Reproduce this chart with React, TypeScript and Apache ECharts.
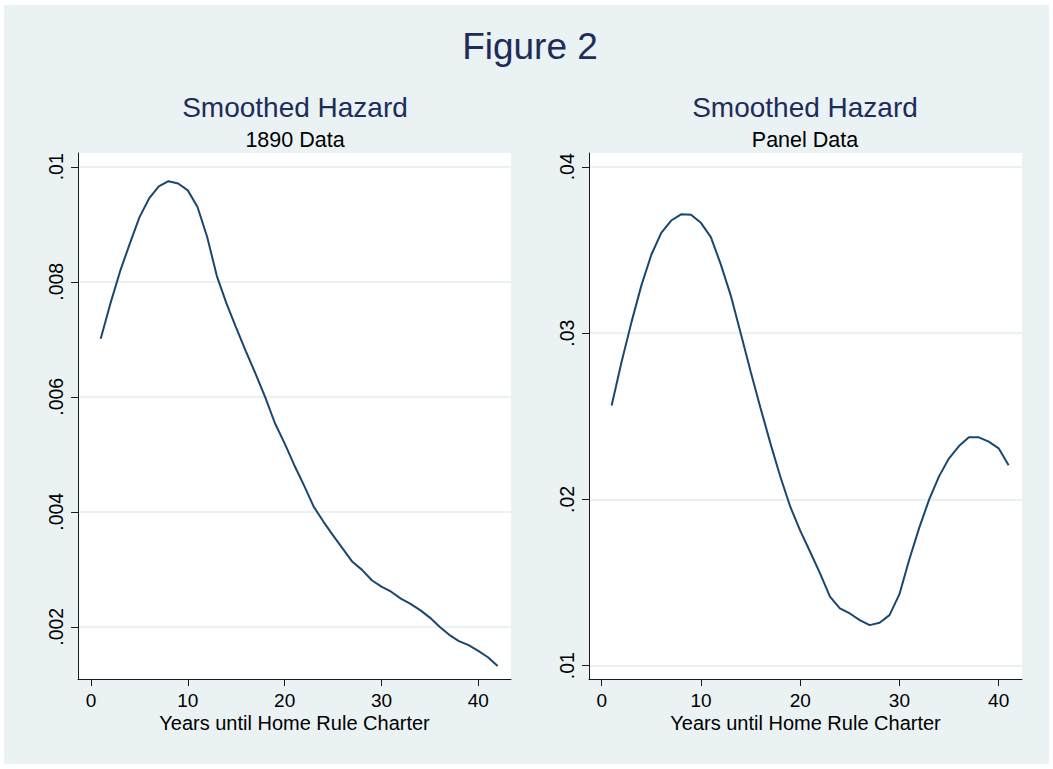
import React, { useEffect, useRef } from 'react';
import * as echarts from 'echarts';

const years1890 = [1, 2, 3, 4, 5, 6, 7, 8, 9, 10, 11, 12, 13, 14, 15, 16, 17, 18, 19, 20, 21, 22, 23, 24, 25, 26, 27, 28, 29, 30, 31, 32, 33, 34, 35, 36, 37, 38, 39, 40, 41, 42];
const hazard1890 = [
  0.00701, 0.00762, 0.00818, 0.00866, 0.00912, 0.00945, 0.00966, 0.00975, 0.00971, 0.00959,
  0.0093, 0.00878, 0.0081, 0.00762, 0.0072, 0.00679, 0.0064, 0.00599, 0.00554, 0.00519,
  0.00481, 0.00446, 0.00409, 0.00383, 0.00359, 0.00336, 0.00313, 0.00299, 0.00281, 0.0027,
  0.00261, 0.00249, 0.0024, 0.00229, 0.00216, 0.002, 0.00186, 0.00175, 0.00168, 0.00158,
  0.00147, 0.00132,
];

const yearsPanel = [1, 2, 3, 4, 5, 6, 7, 8, 9, 10, 11, 12, 13, 14, 15, 16, 17, 18, 19, 20, 21, 22, 23, 24, 25, 26, 27, 28, 29, 30, 31, 32, 33, 34, 35, 36, 37, 38, 39, 40, 41];
const hazardPanel = [
  0.02565, 0.02826, 0.03066, 0.03287, 0.03471, 0.03603, 0.03677, 0.03714, 0.03712, 0.03663,
  0.03577, 0.03413, 0.03227, 0.03, 0.0277, 0.0255, 0.02337, 0.02136, 0.01956, 0.01812,
  0.01685, 0.01555, 0.01415, 0.01345, 0.01314, 0.01274, 0.01244, 0.01258, 0.01304, 0.0143,
  0.0164, 0.0183, 0.02, 0.0214, 0.02247, 0.02321, 0.02373, 0.02373, 0.02347, 0.02307,
  0.02206,
];

const xTicks = [0, 10, 20, 30, 40];
const yTicks1890 = [0.002, 0.004, 0.006, 0.008, 0.01];
const yTicksPanel = [0.01, 0.02, 0.03, 0.04];

const mainTitle = 'Figure 2';
const panelTitle = 'Smoothed Hazard';
const subtitle1890 = '1890 Data';
const subtitlePanel = 'Panel Data';
const xAxisTitle = 'Years until Home Rule Charter';

const FONT = "'Liberation Sans', Arial, Helvetica, sans-serif";
const TITLE_COLOR = '#1e2c5a';
const LINE_COLOR = '#1a476f';
const BG = '#eaf2f3';
const GRID_COLOR = '#e3edef';
const AXIS_COLOR = '#1a1a1a';

// chart div offset within the page (white frame around)
const OX = 4;
const OY = 5;

function fmtY(v: number): string {
  const s = String(parseFloat(Number(v).toPrecision(6)));
  return s.replace(/^0\./, '.');
}

function makeX(gridIndex: number, min: number, max: number) {
  return {
    type: 'value',
    gridIndex,
    min,
    max,
    axisLine: { show: true, onZero: false, lineStyle: { color: AXIS_COLOR, width: 1 } },
    axisTick: { show: true, length: 7, customValues: xTicks, lineStyle: { color: AXIS_COLOR, width: 1 } },
    axisLabel: { customValues: xTicks, margin: 12, fontFamily: FONT, fontSize: 19, lineHeight: 19, color: '#000' },
    splitLine: { show: false },
  };
}

function makeY(gridIndex: number, min: number, max: number, ticks: number[]) {
  return {
    type: 'value',
    gridIndex,
    min,
    max,
    axisLine: { show: true, onZero: false, lineStyle: { color: AXIS_COLOR, width: 1 } },
    axisTick: { show: true, length: 7, customValues: ticks, lineStyle: { color: AXIS_COLOR, width: 1 } },
    axisLabel: {
      customValues: ticks,
      rotate: 90,
      margin: 12,
      formatter: fmtY,
      fontFamily: FONT,
      fontSize: 19.5,
      color: '#000',
    },
    splitLine: { show: true, lineStyle: { color: GRID_COLOR, width: 1.5 } },
  };
}

function textEl(text: string, x: number, y: number, size: number, color: string) {
  return {
    type: 'text',
    x: x - OX,
    y: y - OY,
    silent: true,
    style: {
      text,
      fontFamily: FONT,
      fontSize: size,
      lineHeight: size,
      fill: color,
      align: 'center',
      verticalAlign: 'middle',
      textAlign: 'center',
      textVerticalAlign: 'middle',
    },
  };
}

export default function App() {
  const ref = useRef<HTMLDivElement>(null);

  useEffect(() => {
    if (!ref.current) return;
    const chart = echarts.init(ref.current, undefined, { renderer: 'svg' });
    const gridTop = 153 - OY;
    const gridH = 526;
    chart.setOption({
      animation: false,
      backgroundColor: BG,
      graphic: [
        textEl(mainTitle, 530, 46, 37, TITLE_COLOR),
        textEl(panelTitle, 295, 107, 28, TITLE_COLOR),
        textEl(subtitle1890, 295, 140, 21.5, '#000'),
        textEl(panelTitle, 805, 107, 28, TITLE_COLOR),
        textEl(subtitlePanel, 805, 140, 21.5, '#000'),
        textEl(xAxisTitle, 294.5, 723, 20, '#000'),
        textEl(xAxisTitle, 805.5, 723, 20, '#000'),
      ],
      grid: [
        { left: 78 - OX, top: gridTop, width: 433, height: gridH, show: true, backgroundColor: '#fff', borderWidth: 0 },
        { left: 589 - OX, top: gridTop, width: 433, height: gridH, show: true, backgroundColor: '#fff', borderWidth: 0 },
      ],
      xAxis: [makeX(0, -1.343, 43.38), makeX(1, -1.28, 42.35)],
      yAxis: [makeY(0, 0.001092, 0.01024, yTicks1890), makeY(1, 0.0092, 0.04083, yTicksPanel)],
      series: [
        {
          type: 'line',
          xAxisIndex: 0,
          yAxisIndex: 0,
          data: years1890.map((x, i) => [x, hazard1890[i]]),
          showSymbol: false,
          symbol: 'none',
          silent: true,
          lineStyle: { color: LINE_COLOR, width: 2 },
          itemStyle: { color: LINE_COLOR },
        },
        {
          type: 'line',
          xAxisIndex: 1,
          yAxisIndex: 1,
          data: yearsPanel.map((x, i) => [x, hazardPanel[i]]),
          showSymbol: false,
          symbol: 'none',
          silent: true,
          lineStyle: { color: LINE_COLOR, width: 2 },
          itemStyle: { color: LINE_COLOR },
        },
      ],
    });
    return () => chart.dispose();
  }, []);

  return (
    <div style={{ position: 'fixed', left: 0, top: 0, width: 1053, height: 769, background: '#fff' }}>
      <div ref={ref} style={{ position: 'absolute', left: OX, top: OY, width: 1053 - 2 * OX, height: 769 - 2 * OY }} />
    </div>
  );
}
